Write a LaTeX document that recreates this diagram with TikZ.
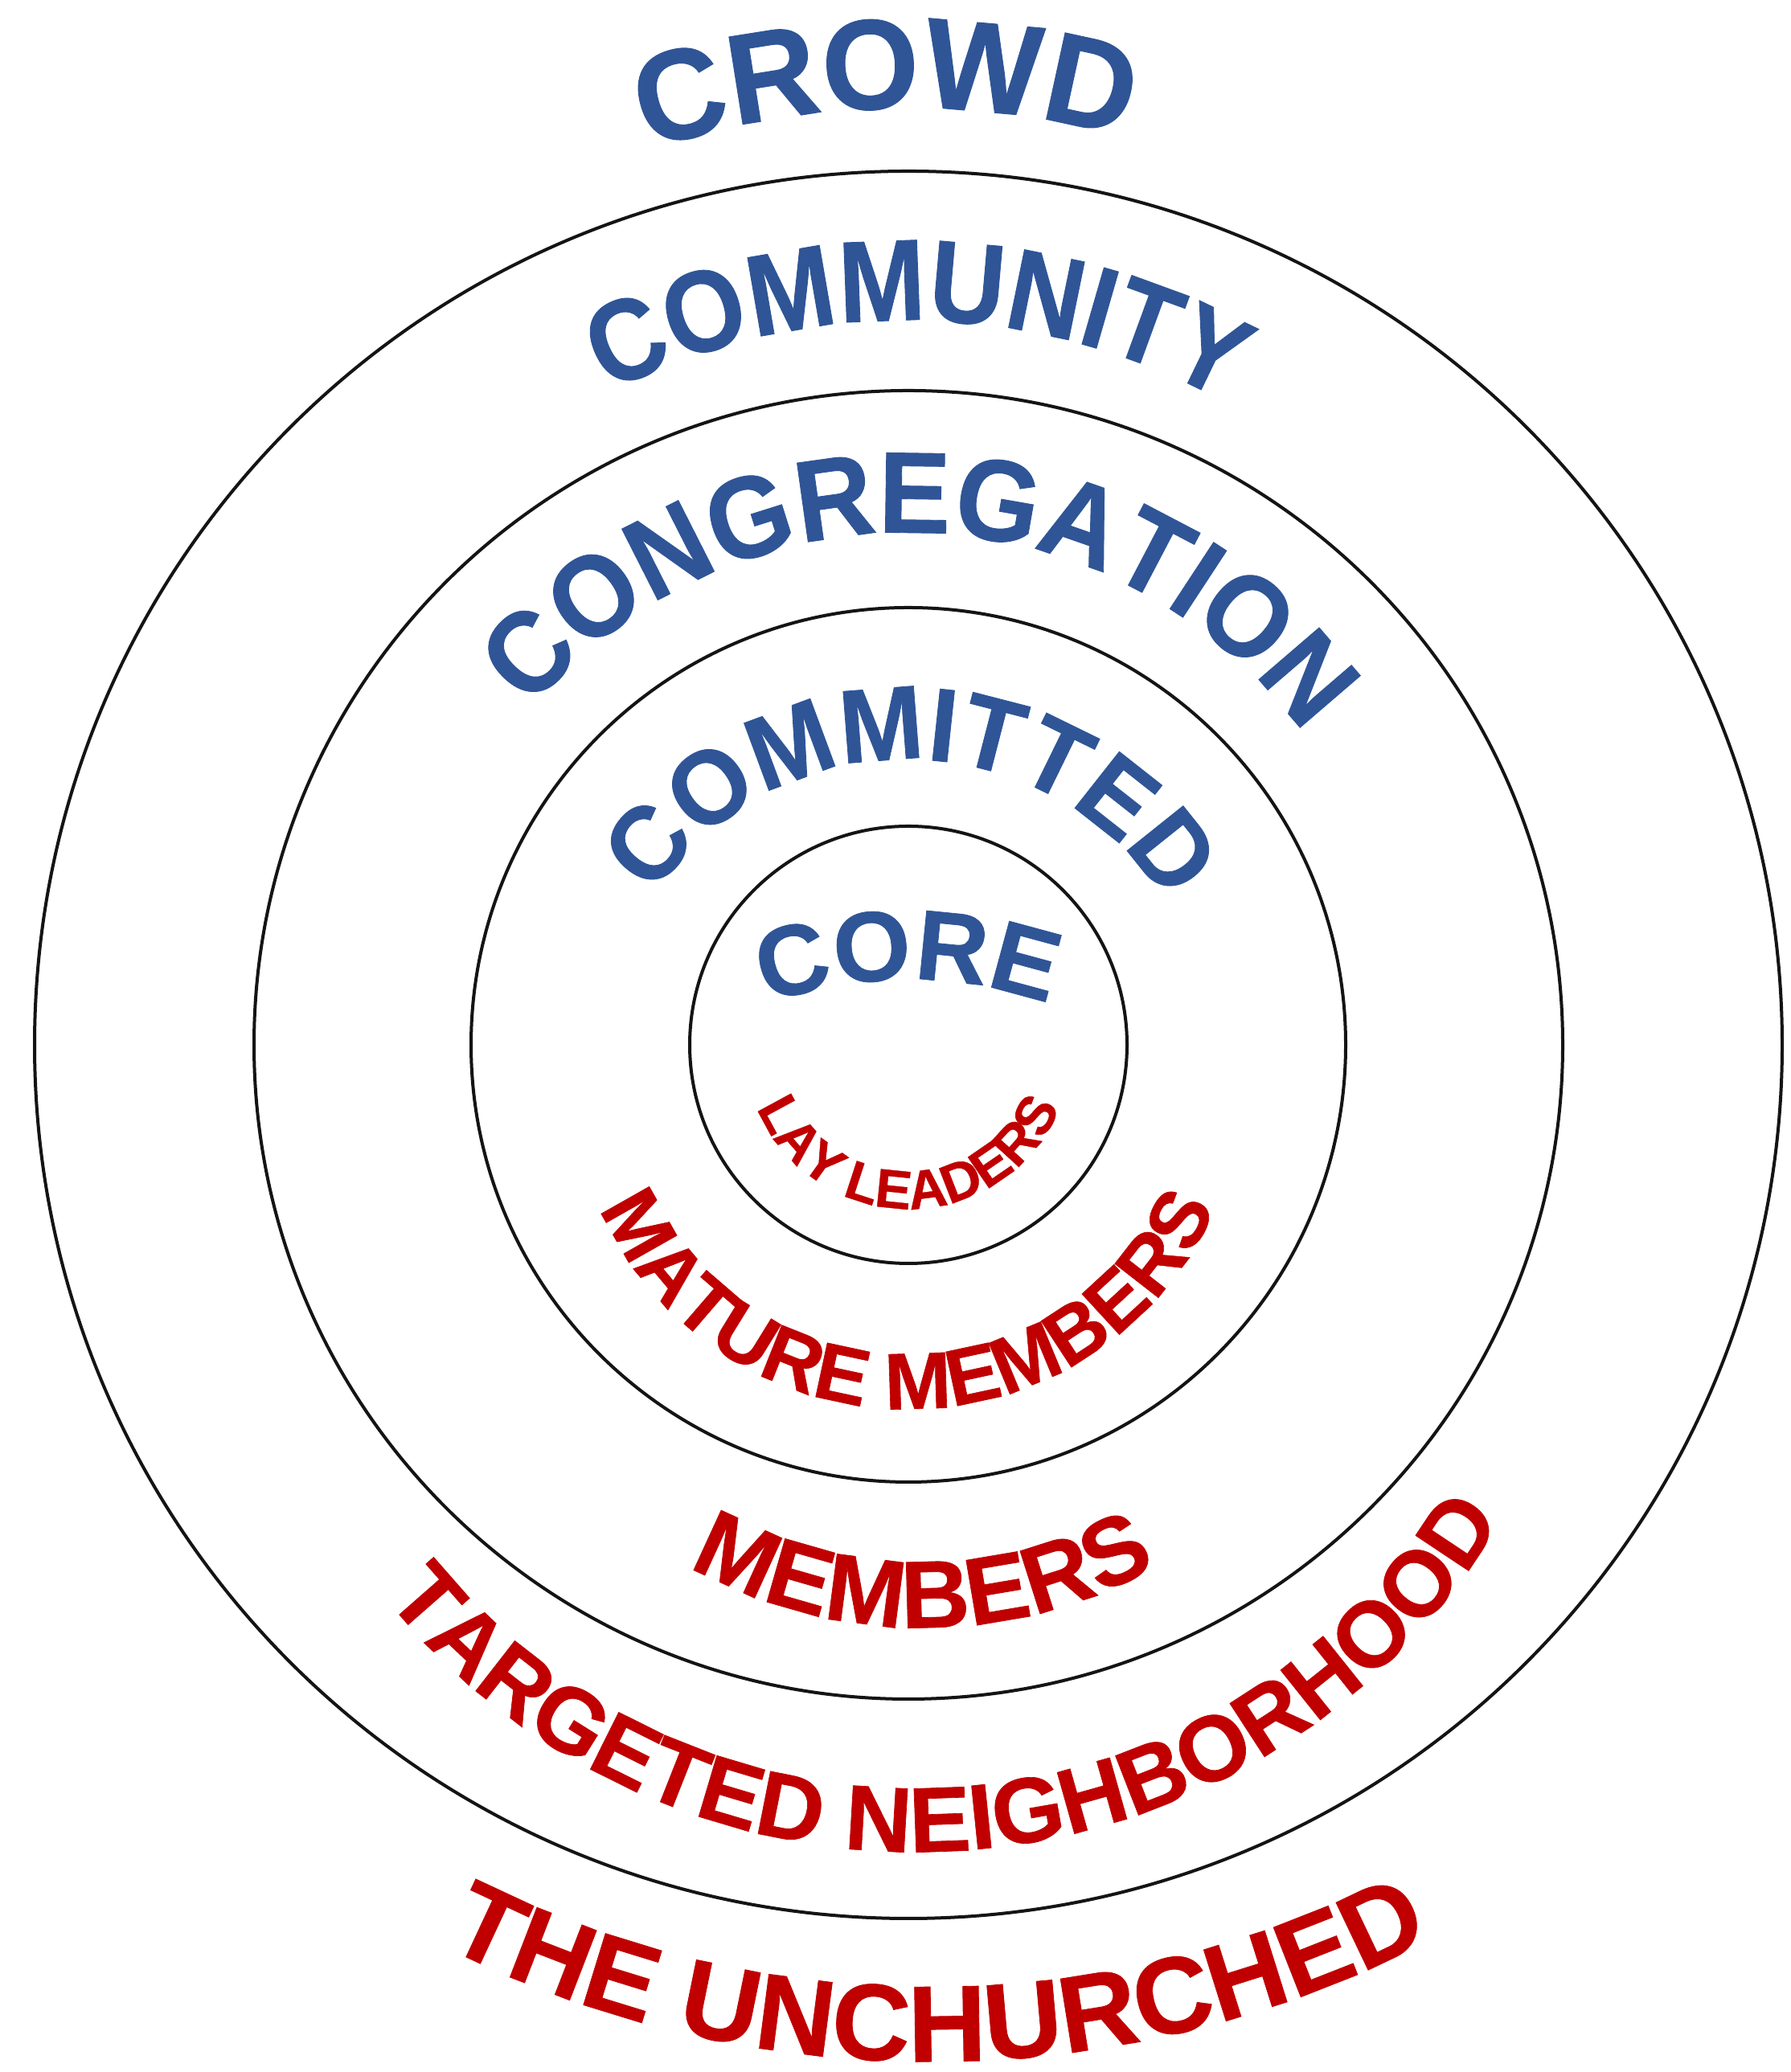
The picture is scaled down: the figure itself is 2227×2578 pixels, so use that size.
\documentclass[tikz,border=0pt]{standalone}
\usepackage{fontspec}
\setmainfont{Liberation Sans}
\newfontfamily\blueA[FakeStretch=0.97, FakeBold=0.6]{Liberation Sans}
\newfontfamily\blueB[FakeStretch=0.90, FakeBold=0.6]{Liberation Sans}
\newfontfamily\blueC[FakeStretch=0.93, FakeBold=0.6]{Liberation Sans}
\newfontfamily\blueD[FakeStretch=0.965, FakeBold=0.6]{Liberation Sans}
\newfontfamily\redF[FakeBold=0.6]{Liberation Sans}
\usetikzlibrary{decorations.text}
\definecolor{cblue}{RGB}{47,85,151}
\definecolor{cred}{RGB}{192,0,0}
\begin{document}
\begin{tikzpicture}[x=0.25pt,y=0.25pt,
  ring/.style={draw=black!92, line width=1pt},
  bluetext/.style={decorate, decoration={text along path, text align=center, text color=cblue, text={#1}}},
  redtext/.style={decorate, decoration={text along path, text align=center, text color=cred, text={#1}}}]
\useasboundingbox (0,0) rectangle (2227,2578);
\fill[white] (0,0) rectangle (2227,2578);
\coordinate (O) at (1130,1278);
\draw[ring] (O) circle[radius=272];
\draw[ring] (O) circle[radius=544];
\draw[ring] (O) circle[radius=814];
\draw[ring] (O) circle[radius=1087];
% top texts
\coordinate (cCrowd) at (1129,1419);
\path[bluetext={|\blueA\bfseries\fontsize{40pt}{42pt}\selectfont|CROWD}]
  (cCrowd) ++(151.5:1024) arc[start angle=151.5, end angle=31.5, radius=1024];
\coordinate (cCommunity) at (1129,1361);
\path[bluetext={|\blueB\bfseries\fontsize{36pt}{38pt}\selectfont|COMMUNITY}]
  (cCommunity) ++(159.1:818) arc[start angle=159.1, end angle=19.1, radius=818];
\coordinate (cCongr) at (1129,1305);
\path[bluetext={|\blueC\bfseries\fontsize{36pt}{38pt}\selectfont|CONGREGATION}]
  (cCongr) ++(168.2:610) arc[start angle=168.2, end angle=8.2, radius=610];
\coordinate (cCommitted) at (1129,1254);
\path[bluetext={|\blueD\bfseries\fontsize{32.5pt}{34pt}\selectfont|COMMITTED}]
  (cCommitted) ++(174.2:379) arc[start angle=174.2, end angle=4.2, radius=379];
\coordinate (cCore) at (1129,839);
\path[bluetext={|\redF\bfseries\fontsize{31pt}{33pt}\selectfont|CORE}]
  (cCore) ++(130:520) arc[start angle=130, end angle=50, radius=520];
% bottom texts
\path[redtext={|\redF\bfseries\fontsize{17pt}{19pt}\selectfont|LAY LEADERS}]
  (O) ++(190:204) arc[start angle=190, end angle=350, radius=204];
\coordinate (cMature) at (1129,1243);
\path[redtext={|\redF\bfseries\fontsize{25pt}{27pt}\selectfont|MATURE MEMBERS}]
  (cMature) ++(180:418) arc[start angle=180, end angle=360, radius=418];
\coordinate (cMembers) at (1148,1145);
\path[redtext={|\redF\bfseries\fontsize{29.8pt}{31pt}\selectfont|MEMBERS}]
  (cMembers) ++(210:592) arc[start angle=210, end angle=330, radius=592];
\coordinate (cTarget) at (1140,1122);
\path[redtext={|\redF\bfseries\fontsize{28.8pt}{30pt}\selectfont|TARGETED NEIGHBORHOOD}]
  (cTarget) ++(199:848) arc[start angle=199, end angle=349, radius=848];
\coordinate (cUnch) at (1158,1360);
\path[redtext={|\redF\bfseries\fontsize{33.8pt}{35pt}\selectfont|THE UNCHURCHED}]
  (cUnch) ++(225.4:1347) arc[start angle=225.4, end angle=315.4, radius=1347];
\end{tikzpicture}
\end{document}
